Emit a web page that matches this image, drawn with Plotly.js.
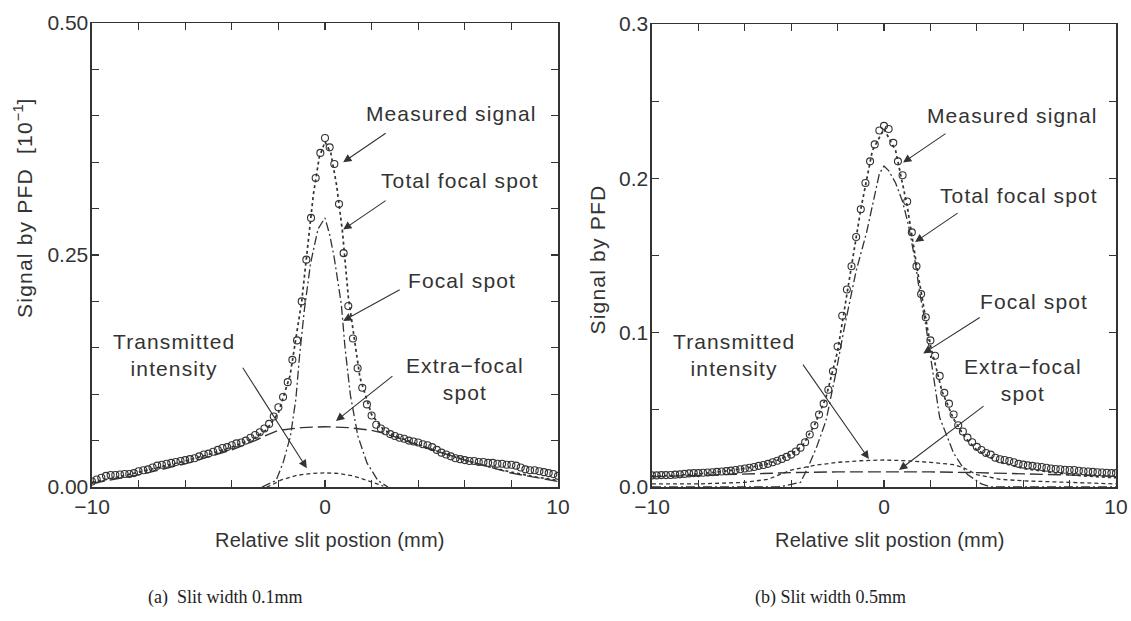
<!DOCTYPE html>
<html>
<head>
<meta charset="utf-8">
<script src="https://cdn.plot.ly/plotly-3.0.1.min.js"></script>
<style>html,body{margin:0;padding:0;background:#fff;}#chart{width:1131px;height:621px;}</style>
</head>
<body>
<div id="chart"></div>
<script>
// ---- shared slit positions for measured points (mm) ----
const slitPos = [-10,-9.8,-9.6,-9.4,-9.2,-9,-8.8,-8.6,-8.4,-8.2,-8,-7.8,-7.6,-7.4,-7.2,-7,-6.8,-6.6,-6.4,-6.2,
-6,-5.8,-5.6,-5.4,-5.2,-5,-4.8,-4.6,-4.4,-4.2,-4,-3.8,-3.6,-3.4,-3.2,-3,-2.8,-2.6,-2.4,-2.2,
-2,-1.8,-1.6,-1.4,-1.2,-1,-0.8,-0.6,-0.4,-0.2,0,0.2,0.4,0.6,0.8,1,1.2,1.4,1.6,1.8,
2,2.2,2.4,2.6,2.8,3,3.2,3.4,3.6,3.8,4,4.2,4.4,4.6,4.8,5,5.2,5.4,5.6,5.8,
6,6.2,6.4,6.6,6.8,7,7.2,7.4,7.6,7.8,8,8.2,8.4,8.6,8.8,9,9.2,9.4,9.6,9.8,10];

// ---- (a) slit width 0.1 mm ----
const measuredA = [0.006,0.008,0.010,0.012,0.013,0.013,0.0135,0.014,0.014,0.015,
0.017,0.018,0.019,0.021,0.023,0.024,0.025,0.026,0.027,0.028,
0.029,0.030,0.031,0.033,0.035,0.036,0.038,0.040,0.042,0.043,
0.045,0.047,0.048,0.050,0.053,0.056,0.059,0.063,0.068,0.076,
0.086,0.097,0.113,0.137,0.158,0.200,0.245,0.290,0.333,0.360,
0.376,
0.366,0.348,0.305,0.252,0.195,0.160,0.128,0.107,0.089,0.077,
0.067,0.063,0.060,0.057,0.055,0.053,0.052,0.050,0.049,0.048,
0.046,0.045,0.043,0.040,0.037,0.035,0.033,0.031,0.030,0.029,
0.028,0.028,0.027,0.027,0.026,0.026,0.025,0.025,0.024,0.024,
0.023,0.021,0.019,0.018,0.018,0.017,0.016,0.015,0.014,0.012];

const totalAx = [-10,-9,-8,-7,-6,-5,-4,-3,-2.5,-2,-1.5,-1,-0.75,-0.5,-0.25,0,0.25,0.5,0.75,1,1.5,2,2.5,3,4,5,6,7,8,9,10];
const totalAy = [0.005,0.010,0.016,0.022,0.028,0.035,0.043,0.053,0.062,0.080,0.120,0.200,0.255,0.315,0.355,0.372,0.360,0.325,0.275,0.205,0.118,0.078,0.062,0.055,0.046,0.037,0.029,0.022,0.016,0.011,0.007];

const focalAx = [-2.7,-2.1,-1.8,-1.48,-1.25,-1.09,-0.89,-0.62,-0.3,0,0.2,0.39,0.7,0.86,1.09,1.41,1.8,2.27,2.7];
const focalAy = [0,0.007,0.026,0.055,0.095,0.142,0.190,0.241,0.278,0.290,0.272,0.248,0.197,0.150,0.099,0.055,0.026,0.007,0];

const extraAx = [-10,-8,-6,-4,-3,-2.5,-2,-1,0,1,2,2.5,3,4,6,8,10];
const extraAy = [0.004,0.013,0.025,0.040,0.050,0.056,0.061,0.064,0.065,0.064,0.061,0.058,0.054,0.045,0.029,0.015,0.006];

const transAx = [-2.5,-2.3,-1.9,-1.2,-0.6,0,0.6,1.2,1.7,2.1,2.5];
const transAy = [0,0.002,0.0074,0.0126,0.0146,0.0152,0.0146,0.012,0.008,0.0043,0.001];

// ---- (b) slit width 0.5 mm ----
const measuredB = [0.0075,0.0075,0.0077,0.0077,0.0078,0.0080,0.0082,0.0085,0.0088,0.0090,
0.0090,0.0092,0.0094,0.0096,0.0098,0.0100,0.0103,0.0106,0.0110,0.0115,
0.0120,0.0125,0.0130,0.0137,0.0143,0.0150,0.0160,0.0170,0.0182,0.0195,
0.0210,0.0230,0.0255,0.029,0.034,0.040,0.047,0.054,0.063,0.075,
0.091,0.111,0.128,0.143,0.162,0.180,0.197,0.211,0.222,0.231,
0.234,
0.232,0.223,0.211,0.202,0.185,0.165,0.143,0.125,0.110,0.095,
0.085,0.072,0.061,0.054,0.047,0.040,0.036,0.032,0.029,0.026,
0.024,0.022,0.021,0.019,0.018,0.0175,0.0168,0.016,0.015,0.0145,
0.014,0.0137,0.0133,0.013,0.0125,0.012,0.0117,0.0115,0.0112,0.011,
0.011,0.0105,0.0102,0.010,0.0098,0.0096,0.0094,0.0092,0.009,0.009];

const totalBx = [-10,-9,-8,-7,-6,-5,-4,-3.5,-3,-2.5,-2,-1.5,-1,-0.5,0,0.5,1,1.5,2,2.5,3,3.5,4,5,6,7,8,9,10];
const totalBy = [0.007,0.0075,0.0085,0.010,0.012,0.015,0.021,0.027,0.040,0.058,0.088,0.135,0.180,0.218,0.232,0.218,0.182,0.135,0.092,0.062,0.044,0.032,0.024,0.016,0.012,0.010,0.008,0.0068,0.006];

const focalBx = [-10,-4.6,-4.2,-3.6,-3.3,-2.9,-2.5,-2.1,-1.7,-1.2,-0.75,-0.45,-0.2,0,0.2,0.5,0.8,1.05,1.3,1.55,1.8,2.0,2.4,3.0,3.6,4.2,4.6,10];
const focalBy = [0,0,0.001,0.003,0.012,0.026,0.043,0.072,0.104,0.140,0.165,0.187,0.203,0.208,0.205,0.197,0.185,0.170,0.150,0.125,0.105,0.085,0.045,0.022,0.008,0.002,0,0];

const extraBx = [-10,-8,-6,-4,-2,0,2,4,6,8,10];
const extraBy = [0.0066,0.0075,0.0085,0.0093,0.0098,0.0100,0.0098,0.0093,0.0085,0.0077,0.0070];

const transBx = [-10,-8,-6,-5,-4.5,-4,-3,-2,-1,0,1,2,3,3.5,4,5,6,8,10];
const transBy = [0.002,0.002,0.003,0.005,0.008,0.011,0.014,0.016,0.017,0.0175,0.017,0.016,0.0145,0.012,0.008,0.005,0.004,0.003,0.002];

// ---- tick labels ----
const xTickVals = [-10,-8,-6,-4,-2,0,2,4,6,8,10];
const xTickText = ['\u221210','','','','','0','','','','','10'];
const yTickValsA = [0,0.05,0.1,0.15,0.2,0.25,0.3,0.35,0.4,0.45,0.5];
const yTickTextA = ['0.00','','','','','0.25','','','','','0.50'];
const yTickValsB = [0,0.05,0.1,0.15,0.2,0.25,0.3];
const yTickTextB = ['0.0','','0.1','','0.2','','0.3'];

const INK = '#333';
const FONT = 'Liberation Sans, Arial, sans-serif';

function series(xs, ys, xa, ya, style) {
  return Object.assign({x: xs, y: ys, xaxis: xa, yaxis: ya, type: 'scatter', showlegend: false, hoverinfo: 'skip', cliponaxis: true}, style);
}
const stMeasured = {mode: 'markers', marker: {symbol: 'circle-open', size: 7, color: INK, line: {width: 1.1, color: INK}}};
const stTotal = {mode: 'lines', line: {color: INK, width: 1.7, dash: 'dot'}};
const stFocal = {mode: 'lines', line: {color: INK, width: 1.3, dash: '9px,3px,2px,3px'}};
const stExtra = {mode: 'lines', line: {color: INK, width: 1.4, dash: '13px,5px'}};
const stTrans = {mode: 'lines', line: {color: INK, width: 1.3, dash: '4px,3px'}};

const data = [
  series(totalAx, totalAy, 'x', 'y', stTotal),
  series(focalAx, focalAy, 'x', 'y', stFocal),
  series(extraAx, extraAy, 'x', 'y', stExtra),
  series(transAx, transAy, 'x', 'y', stTrans),
  series(slitPos, measuredA, 'x', 'y', stMeasured),
  series(totalBx, totalBy, 'x2', 'y2', stTotal),
  series(focalBx, focalBy, 'x2', 'y2', stFocal),
  series(extraBx, extraBy, 'x2', 'y2', stExtra),
  series(transBx, transBy, 'x2', 'y2', stTrans),
  series(slitPos, measuredB, 'x2', 'y2', stMeasured)
];

function xAxis(domain, anchor) {
  return {domain: domain, anchor: anchor, range: [-10, 10], tickmode: 'array', tickvals: xTickVals, ticktext: xTickText,
    ticks: 'inside', ticklen: 7, tickwidth: 1.2, tickcolor: INK, showline: true, linecolor: INK, linewidth: 1.5,
    mirror: 'ticks', showgrid: false, zeroline: false, automargin: false,
    tickfont: {family: FONT, size: 21, color: INK}};
}
function yAxis(domain, anchor, vals, text, top) {
  return {domain: domain, anchor: anchor, range: [0, top], tickmode: 'array', tickvals: vals, ticktext: text,
    ticks: 'inside', ticklen: 7, tickwidth: 1.2, tickcolor: INK, showline: true, linecolor: INK, linewidth: 1.5,
    mirror: 'ticks', showgrid: false, zeroline: false, automargin: false, ticklabelstandoff: -2,
    tickfont: {family: FONT, size: 21, color: INK}};
}

function spaced(t, px) { return '<span style="letter-spacing:' + px + 'px">' + t + '</span>'; }
function label(text, x, y, xref, yref, extra) {
  return Object.assign({text: text, x: x, y: y, xref: xref, yref: yref, showarrow: false,
    xanchor: 'center', yanchor: 'middle', font: {family: FONT, size: 21, color: INK}}, extra || {});
}
function arrow(x, y, xref, yref, ax, ay) {
  return {text: '', x: x, y: y, xref: xref, yref: yref, ax: ax, ay: ay, showarrow: true,
    arrowhead: 2, arrowsize: 1.5, arrowwidth: 1.1, arrowcolor: INK, standoff: 0};
}
const LS = 1.1;
const titleFont = {family: FONT, size: 21, color: INK};
const capFont = {family: 'Liberation Serif, Times New Roman, serif', size: 18, color: '#222'};

const annotations = [
  // panel (a)
  label(spaced('Measured signal', LS), 5.44, 0.403, 'x', 'y'),
  label(spaced('Total focal spot', LS), 5.78, 0.330, 'x', 'y'),
  label(spaced('Focal spot', LS), 5.86, 0.2226, 'x', 'y'),
  label(spaced('Extra\u2212focal', LS) + '<br>' + spaced('spot', LS), 6.01, 0.1164, 'x', 'y'),
  label(spaced('Transmitted', LS) + '<br>' + spaced('intensity', LS), -6.48, 0.1422, 'x', 'y'),
  arrow(0.78, 0.350, 'x', 'y', 44, -30),
  arrow(0.78, 0.2774, 'x', 'y', 44, -30),
  arrow(0.78, 0.179, 'x', 'y', 58, -32),
  arrow(0.47, 0.0712, 'x', 'y', 58, -46),
  arrow(-0.78, 0.0202, 'x', 'y', -65, -102),
  // panel (b)
  label(spaced('Measured signal', LS), 5.53, 0.241, 'x2', 'y2'),
  label(spaced('Total focal spot', LS), 5.84, 0.1888, 'x2', 'y2'),
  label(spaced('Focal spot', LS), 6.47, 0.1205, 'x2', 'y2'),
  label(spaced('Extra\u2212focal', LS) + '<br>' + spaced('spot', LS), 5.99, 0.0695, 'x2', 'y2'),
  label(spaced('Transmitted', LS) + '<br>' + spaced('intensity', LS), -6.47, 0.0855, 'x2', 'y2'),
  arrow(0.82, 0.2102, 'x2', 'y2', 44, -30),
  arrow(1.34, 0.1587, 'x2', 'y2', 44, -30),
  arrow(1.69, 0.0865, 'x2', 'y2', 58, -37),
  arrow(0.65, 0.011, 'x2', 'y2', 86, -65),
  arrow(-0.65, 0.0181, 'x2', 'y2', -67, -96),
  // axis titles
  label(spaced('Signal by PFD\u00a0\u00a0[10', 1.2) + '<sup>\u22121</sup>' + spaced(']', 1.2), 0.0202, 0.665, 'paper', 'paper', {textangle: -90, font: titleFont}),
  label(spaced('Signal by PFD', 1.2), 0.5287, 0.582, 'paper', 'paper', {textangle: -90, font: titleFont}),
  label(spaced('Relative slit postion (mm)', 0.2), 0.2918, 0.1304, 'paper', 'paper', {font: {family: FONT, size: 20, color: INK}}),
  label(spaced('Relative slit postion (mm)', 0.2), 0.787, 0.1304, 'paper', 'paper', {font: {family: FONT, size: 20, color: INK}}),
  // captions
  label('(a)\u00a0\u00a0Slit width 0.1mm', 0.1998, 0.0386, 'paper', 'paper', {font: capFont}),
  label('(b) Slit width 0.5mm', 0.7347, 0.0386, 'paper', 'paper', {font: capFont})
];

const layout = {
  width: 1131, height: 621,
  margin: {l: 0, r: 0, t: 0, b: 0},
  paper_bgcolor: '#fff', plot_bgcolor: '#fff',
  showlegend: false,
  font: {family: FONT, color: INK},
  xaxis: xAxis([0.08134, 0.49337], 'y'),
  yaxis: yAxis([0.21578, 0.96296], 'x', yTickValsA, yTickTextA, 0.5),
  xaxis2: xAxis([0.57648, 0.98674], 'y2'),
  yaxis2: yAxis([0.21578, 0.96135], 'x2', yTickValsB, yTickTextB, 0.3),
  annotations: annotations
};

Plotly.newPlot('chart', data, layout, {staticPlot: true, displayModeBar: false});
</script>
</body>
</html>
